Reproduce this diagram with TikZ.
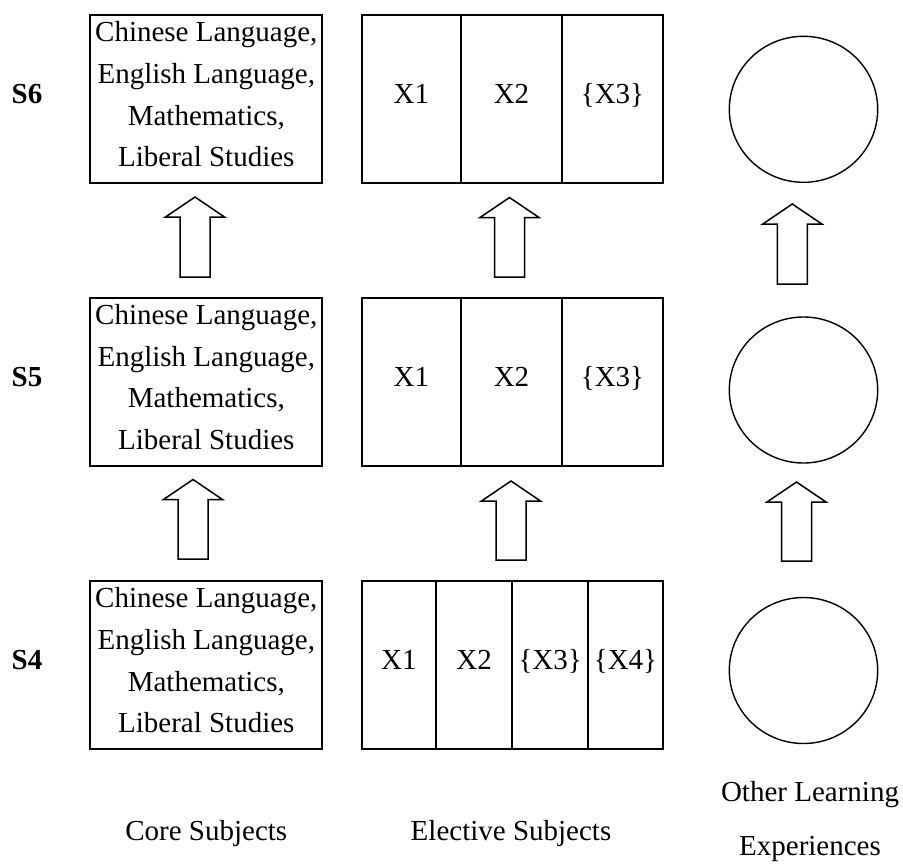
\documentclass[tikz,border=0pt]{standalone}
\usepackage{fontspec}
\setmainfont{Liberation Serif}
\usetikzlibrary{shapes.geometric}
\newcommand\blockup[3]{%
  \draw[blockarrow] (#1,#2) -- (#1+29.5,#2+20) -- (#1+15,#2+20) -- (#1+15,#3)
    -- (#1-15,#3) -- (#1-15,#2+20) -- (#1-29.5,#2+20) -- cycle;}
\begin{document}
\begin{tikzpicture}[x=1pt,y=-1pt,
  every node/.style={inner sep=0pt, outer sep=0pt},
  txt/.style={font=\fontsize{29}{41.7}\selectfont},
  corebox/.style={draw, line width=2pt, minimum width=232pt, minimum height=168pt},
  coretext/.style={txt, align=center},
  cell/.style={draw, line width=2pt, txt, text height=88.5pt, text depth=79.5pt, minimum width=#1},
  yearlbl/.style={font=\fontsize{29}{35}\selectfont\bfseries, anchor=base},
  olebubble/.style={draw, ellipse, line width=1.4pt, minimum width=148.4pt, minimum height=146pt},
  blockarrow/.style={draw, line width=1.5pt, line join=miter},
]
\useasboundingbox (0,0) rectangle (903,865);

% year labels
\node[yearlbl] (y6) at (27,103.4) {S6};
\node[yearlbl] (y5) at (27,386.3) {S5};
\node[yearlbl] (y4) at (27,669.5) {S4};

% core subjects
\node[corebox] (core6) at (206.3,98.9) {};
\node[corebox] (core5) at (206.3,381.8) {};
\node[corebox] (core4) at (206.3,665) {};
\node[coretext] (ct6) at (206.3,94.3) {Chinese Language,\\English Language,\\Mathematics,\\Liberal Studies};
\node[coretext] (ct5) at (206.3,377.2) {Chinese Language,\\English Language,\\Mathematics,\\Liberal Studies};
\node[coretext] (ct4) at (206.3,660.4) {Chinese Language,\\English Language,\\Mathematics,\\Liberal Studies};

% elective subjects
\node[cell=99.3pt] (e61) at (411.35,98.9) {X1};
\node[cell=101pt]  (e62) at (511.5,98.9) {X2};
\node[cell=101pt]  (e63) at (612.5,98.9) {\{X3\}};
\node[cell=99.3pt] (e51) at (411.35,381.8) {X1};
\node[cell=101pt]  (e52) at (511.5,381.8) {X2};
\node[cell=101pt]  (e53) at (612.5,381.8) {\{X3\}};
\node[cell=74.3pt] (e41) at (398.85,665) {X1};
\node[cell=76.3pt] (e42) at (474.15,665) {X2};
\node[cell=75.7pt] (e43) at (550.15,665) {\{X3\}};
\node[cell=75pt]   (e44) at (625.5,665) {\{X4\}};

% other learning experiences
\node[olebubble] (o6) at (803.5,109.3) {};
\node[olebubble] (o5) at (803.5,390) {};
\node[olebubble] (o4) at (803.5,670.5) {};

% block arrows
\blockup{195}{197}{277}
\blockup{193}{479.5}{559}
\blockup{509.5}{197.5}{277}
\blockup{511}{481}{560}
\blockup{792.3}{204}{284}
\blockup{796.5}{482}{561}

% column labels
\node[txt, anchor=base] (lcore) at (206.3,840.5) {Core Subjects};
\node[txt, anchor=base] (lelec) at (511,840.5) {Elective Subjects};
\node[font=\fontsize{29}{53.3}\selectfont, align=center] (lole) at (810,821.6) {Other Learning\\Experiences};
\end{tikzpicture}
\end{document}
